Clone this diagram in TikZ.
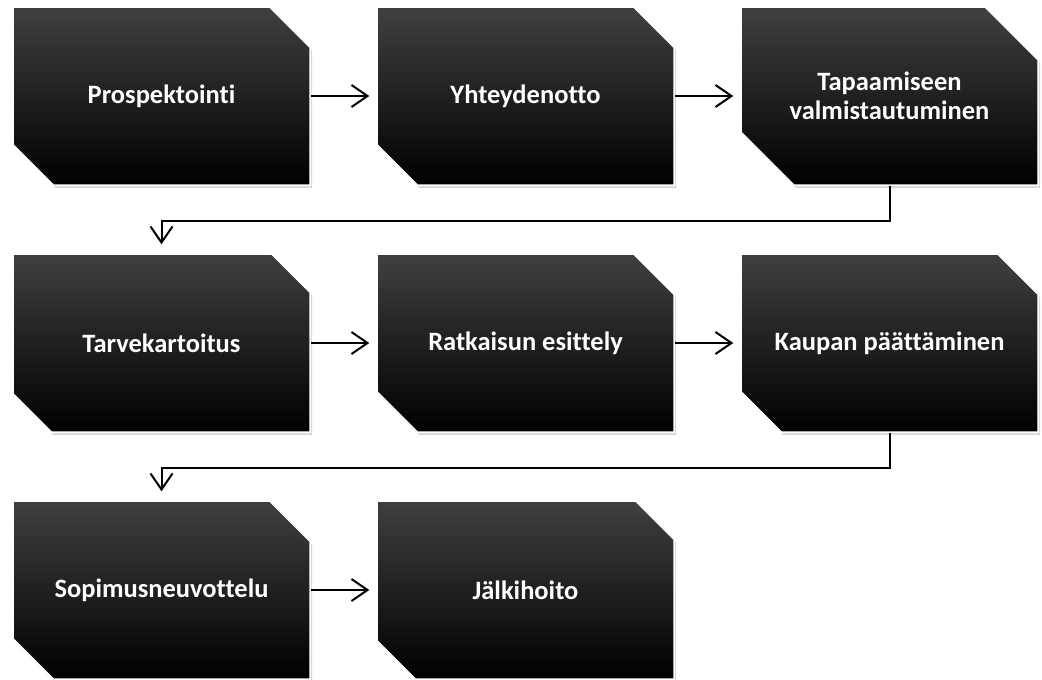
\documentclass[tikz,border=0pt]{standalone}
\usepackage{fontspec}
\setmainfont[Ligatures={NoCommon}]{Carlito}
\usetikzlibrary{shapes.misc,arrows.meta,shadows}
\begin{document}
\begin{tikzpicture}[x=1pt,y=-1pt,
  stepbox/.style={chamfered rectangle,
    chamfered rectangle corners={north east,south west},
    chamfered rectangle xsep=29pt, chamfered rectangle ysep=29pt,
    minimum width=297pt, minimum height=178pt, inner sep=0pt,
    draw=white, line width=1.5pt,
    top color=black!75, middle color=black, bottom color=black,
    drop shadow={shadow xshift=2pt, shadow yshift=-3pt, opacity=0.3},
    text=white, align=center,
    font=\fontsize{26.5}{29}\selectfont\bfseries},
  conn/.style={line width=2pt, -{Straight Barb[length=16pt,width=22pt,line width=2pt]}}
]
\useasboundingbox (0,0) rectangle (1042,680);
\node[stepbox] (b1) at (161.5,96) {Prospektointi};
\node[stepbox] (b2) at (525.5,96) {Yhteydenotto};
\node[stepbox] (b3) at (889.5,96) {Tapaamiseen\\valmistautuminen};
\node[stepbox] (b4) at (161.5,343) {Tarvekartoitus};
\node[stepbox] (b5) at (525.5,343) {Ratkaisun esittely};
\node[stepbox] (b6) at (889.5,343) {Kaupan päättäminen};
\node[stepbox] (b7) at (161.5,590) {Sopimusneuvottelu};
\node[stepbox] (b8) at (525.5,590) {Jälkihoito};
\draw[conn, shorten >=7pt] (b1.east) -- (b2.west);
\draw[conn, shorten >=7pt] (b2.east) -- (b3.west);
\draw[conn, shorten >=7pt] (b4.east) -- (b5.west);
\draw[conn, shorten >=7pt] (b5.east) -- (b6.west);
\draw[conn, shorten >=7pt] (b7.east) -- (b8.west);
\draw[conn, shorten >=9pt] (b3.south) -- ++(0,35) -| (b4.north);
\draw[conn, shorten >=9pt] (b6.south) -- ++(0,35) -| (b7.north);
\end{tikzpicture}
\end{document}
